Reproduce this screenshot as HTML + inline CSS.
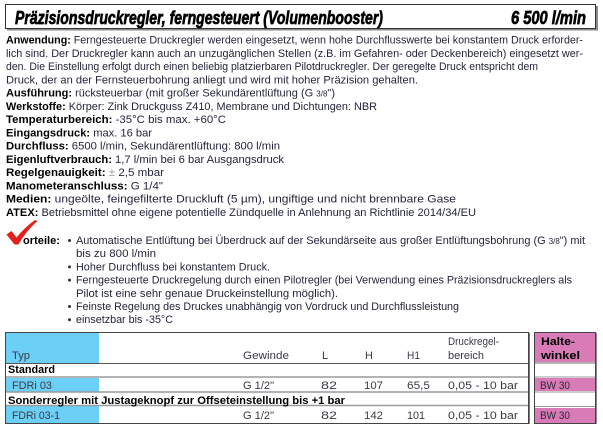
<!DOCTYPE html>
<html><head><meta charset="utf-8"><style>
html,body{margin:0;padding:0;background:#fff;}
svg{display:block;font-family:"Liberation Sans",sans-serif;}
.r{fill:#23253a;}
.b{font-weight:bold;fill:#000;}
</style></head><body>
<svg width="603" height="430" viewBox="0 0 603 430" xmlns="http://www.w3.org/2000/svg">
<rect width="603" height="430" fill="#fff"/>
<!-- title box -->
<line x1="7" y1="29.5" x2="598" y2="29.5" stroke="#8a8a8a" stroke-width="2"/>
<line x1="597" y1="6" x2="597" y2="30" stroke="#8a8a8a" stroke-width="2"/>
<rect x="5.5" y="4.5" width="590" height="24" fill="#fff" stroke="#333" stroke-width="1"/>
<text x="15" y="24" font-size="18" font-weight="bold" font-style="italic" fill="#000" stroke="#000" stroke-width="0.7" textLength="368" lengthAdjust="spacingAndGlyphs">Präzisionsdruckregler, ferngesteuert (Volumenbooster)</text>
<text x="511" y="24" font-size="18" font-weight="bold" font-style="italic" fill="#000" stroke="#000" stroke-width="0.7" textLength="75" lengthAdjust="spacingAndGlyphs">6 500 l/min</text>

<g font-size="11" class="r">
<text x="6" y="43.5" textLength="577" lengthAdjust="spacingAndGlyphs"><tspan class="b">Anwendung:</tspan> Ferngesteuerte Druckregler werden eingesetzt, wenn hohe Durchflusswerte bei konstantem Druck erforder-</text>
<text x="6" y="56.8" textLength="577" lengthAdjust="spacingAndGlyphs">lich sind. Der Druckregler kann auch an unzugänglichen Stellen (z.B. im Gefahren- oder Deckenbereich) eingesetzt wer-</text>
<text x="6" y="70" textLength="532" lengthAdjust="spacingAndGlyphs">den. Die Einstellung erfolgt durch einen beliebig platzierbaren Pilotdruckregler. Der geregelte Druck entspricht dem</text>
<text x="6" y="83.3" textLength="412" lengthAdjust="spacingAndGlyphs">Druck, der an der Fernsteuerbohrung anliegt und wird mit hoher Präzision gehalten.</text>
<text x="6" y="96.6" textLength="329" lengthAdjust="spacingAndGlyphs"><tspan class="b">Ausführung:</tspan> rücksteuerbar (mit großer Sekundärentlüftung (G <tspan font-size="8">3/8</tspan>")</text>
<text x="6" y="109.9" textLength="371" lengthAdjust="spacingAndGlyphs"><tspan class="b">Werkstoffe:</tspan> Körper: Zink Druckguss Z410, Membrane und Dichtungen: NBR</text>
<text x="6" y="123.1" textLength="220" lengthAdjust="spacingAndGlyphs"><tspan class="b">Temperaturbereich:</tspan> -35°C bis max. +60°C</text>
<text x="6" y="136.4" textLength="146" lengthAdjust="spacingAndGlyphs"><tspan class="b">Eingangsdruck:</tspan> max. 16 bar</text>
<text x="6" y="149.7" textLength="274" lengthAdjust="spacingAndGlyphs"><tspan class="b">Durchfluss:</tspan> 6500 l/min, Sekundärentlüftung: 800 l/min</text>
<text x="6" y="162.9" textLength="278" lengthAdjust="spacingAndGlyphs"><tspan class="b">Eigenluftverbrauch:</tspan> 1,7 l/min bei 6 bar Ausgangsdruck</text>
<text x="6" y="176.2" textLength="158" lengthAdjust="spacingAndGlyphs"><tspan class="b">Regelgenauigkeit:</tspan> <tspan fill="#999">±</tspan> 2,5 mbar</text>
<text x="6" y="189.5" textLength="157" lengthAdjust="spacingAndGlyphs"><tspan class="b">Manometeranschluss:</tspan> G 1/4"</text>
<text x="6" y="202.7" textLength="450" lengthAdjust="spacingAndGlyphs"><tspan class="b">Medien:</tspan> ungeölte, feingefilterte Druckluft (5 µm), ungiftige und nicht brennbare Gase</text>
<text x="6" y="216" textLength="470" lengthAdjust="spacingAndGlyphs"><tspan class="b">ATEX:</tspan> Betriebsmittel ohne eigene potentielle Zündquelle in Anlehnung an Richtlinie 2014/34/EU</text>
</g>

<!-- Vorteile -->
<path d="M6.5,234.5 L11.5,231 L16.5,237.5 Q25,227 35,220 L37.5,221 Q26,231 18.5,244.5 L14.5,244.5 Z" fill="#e3211b"/>
<text x="23" y="244" font-size="11" class="b" textLength="37" lengthAdjust="spacingAndGlyphs">orteile:</text>
<g fill="#333">
<circle cx="69.5" cy="240.5" r="1.5"/>
<circle cx="69.5" cy="266.9" r="1.5"/>
<circle cx="69.5" cy="280.1" r="1.5"/>
<circle cx="69.5" cy="306.5" r="1.5"/>
<circle cx="69.5" cy="319.7" r="1.5"/>
</g>
<g font-size="11" class="r">
<text x="76" y="244" textLength="509" lengthAdjust="spacingAndGlyphs">Automatische Entlüftung bei Überdruck auf der Sekundärseite aus großer Entlüftungsbohrung (G <tspan font-size="8">3/8</tspan>") mit</text>
<text x="76" y="257.2" textLength="80" lengthAdjust="spacingAndGlyphs">bis zu 800 l/min</text>
<text x="76" y="270.4" textLength="194" lengthAdjust="spacingAndGlyphs">Hoher Durchfluss bei konstantem Druck.</text>
<text x="76" y="283.6" textLength="496" lengthAdjust="spacingAndGlyphs">Ferngesteuerte Druckregelung durch einen Pilotregler (bei Verwendung eines Präzisionsdruckreglers als</text>
<text x="76" y="296.8" textLength="262" lengthAdjust="spacingAndGlyphs">Pilot ist eine sehr genaue Druckeinstellung möglich).</text>
<text x="76" y="310" textLength="383" lengthAdjust="spacingAndGlyphs">Feinste Regelung des Druckes unabhängig von Vordruck und Durchflussleistung</text>
<text x="76" y="323.2" textLength="97" lengthAdjust="spacingAndGlyphs">einsetzbar bis -35°C</text>
</g>

<!-- main table -->
<rect x="6" y="333" width="93" height="30" fill="#6ccff5"/>
<rect x="6" y="378" width="93" height="14" fill="#6ccff5"/>
<rect x="6" y="406" width="93" height="17" fill="#6ccff5"/>
<line x1="5" y1="363.5" x2="529" y2="363.5" stroke="#555" stroke-width="1"/>
<line x1="5" y1="377" x2="529" y2="377" stroke="#9a9a9a" stroke-width="1.5"/>
<line x1="5" y1="392" x2="529" y2="392" stroke="#9a9a9a" stroke-width="1.5"/>
<line x1="5" y1="405.5" x2="529" y2="405.5" stroke="#9a9a9a" stroke-width="1.5"/>
<rect x="5.5" y="332.5" width="523" height="91" fill="none" stroke="#444" stroke-width="1"/>
<line x1="529.5" y1="333" x2="529.5" y2="424" stroke="#777" stroke-width="1"/>

<g font-size="11" fill="#3a3a44">
<text x="12" y="359" textLength="18" lengthAdjust="spacingAndGlyphs">Typ</text>
<text x="243" y="359" textLength="46" lengthAdjust="spacingAndGlyphs">Gewinde</text>
<text x="322" y="359">L</text>
<text x="365" y="359">H</text>
<text x="407" y="359" textLength="13" lengthAdjust="spacingAndGlyphs">H1</text>
<text x="448" y="345" textLength="51" lengthAdjust="spacingAndGlyphs">Druckregel-</text>
<text x="448" y="359" textLength="36" lengthAdjust="spacingAndGlyphs">bereich</text>

<text x="12" y="389" textLength="40" lengthAdjust="spacingAndGlyphs">FDRi 03</text>
<text x="243" y="389" textLength="31" lengthAdjust="spacingAndGlyphs">G 1/2"</text>
<text x="321" y="389" textLength="16" lengthAdjust="spacingAndGlyphs">82</text>
<text x="364" y="389" textLength="19" lengthAdjust="spacingAndGlyphs">107</text>
<text x="407" y="389" textLength="23" lengthAdjust="spacingAndGlyphs">65,5</text>
<text x="448" y="389" textLength="70" lengthAdjust="spacingAndGlyphs">0,05 - 10 bar</text>

<text x="12" y="419" textLength="48" lengthAdjust="spacingAndGlyphs">FDRi 03-1</text>
<text x="243" y="419" textLength="31" lengthAdjust="spacingAndGlyphs">G 1/2"</text>
<text x="321" y="419" textLength="16" lengthAdjust="spacingAndGlyphs">82</text>
<text x="364" y="419" textLength="19" lengthAdjust="spacingAndGlyphs">142</text>
<text x="407" y="419" textLength="18" lengthAdjust="spacingAndGlyphs">101</text>
<text x="448" y="419" textLength="70" lengthAdjust="spacingAndGlyphs">0,05 - 10 bar</text>
</g>
<text x="8" y="373" font-size="11" class="b" textLength="47" lengthAdjust="spacingAndGlyphs">Standard</text>
<text x="8" y="404" font-size="11" class="b" textLength="337" lengthAdjust="spacingAndGlyphs">Sonderregler mit Justageknopf zur Offseteinstellung bis +1 bar</text>

<!-- right table -->
<rect x="535" y="333" width="60" height="29" fill="#d97bb6"/>
<rect x="535" y="378" width="60" height="13" fill="#d97bb6"/>
<rect x="535" y="408" width="60" height="15" fill="#d97bb6"/>
<line x1="534" y1="363" x2="596" y2="363" stroke="#9a9a9a" stroke-width="1.5"/>
<line x1="534" y1="377" x2="596" y2="377" stroke="#9a9a9a" stroke-width="1"/>
<line x1="534" y1="392" x2="596" y2="392" stroke="#9a9a9a" stroke-width="1"/>
<line x1="534" y1="406.5" x2="596" y2="406.5" stroke="#9a9a9a" stroke-width="1"/>
<rect x="534.5" y="332.5" width="61" height="91" fill="none" stroke="#444" stroke-width="1"/>
<line x1="596.5" y1="333" x2="596.5" y2="424" stroke="#888" stroke-width="1"/>
<text x="541" y="345" font-size="11" class="b" textLength="34" lengthAdjust="spacingAndGlyphs">Halte-</text>
<text x="541" y="359" font-size="11" class="b" textLength="39" lengthAdjust="spacingAndGlyphs">winkel</text>
<text x="540" y="389" font-size="11" fill="#2a2a33" textLength="30" lengthAdjust="spacingAndGlyphs">BW 30</text>
<text x="540" y="419" font-size="11" fill="#2a2a33" textLength="30" lengthAdjust="spacingAndGlyphs">BW 30</text>
</svg>
</body></html>
